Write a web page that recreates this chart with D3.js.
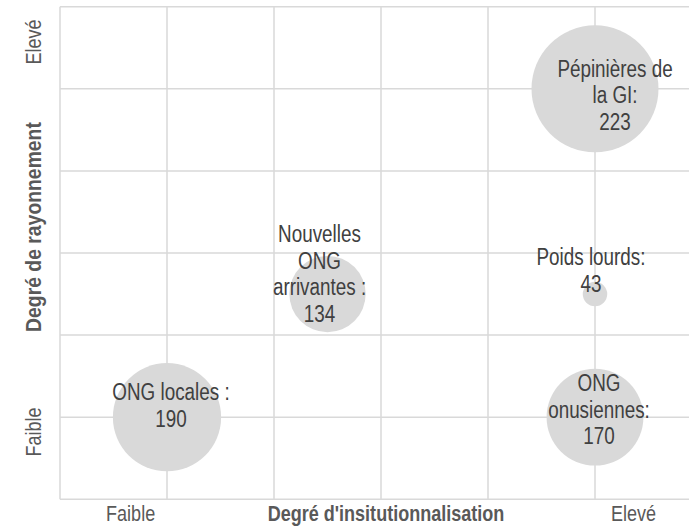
<!DOCTYPE html>
<html>
<head>
<meta charset="utf-8">
<script src="https://cdn.jsdelivr.net/npm/d3@7"></script>
<style>
  html, body { margin: 0; padding: 0; background: #fff; }
  svg { display: block; }
  text { font-family: "Liberation Sans", Arial, sans-serif; }
</style>
</head>
<body>
<svg id="chart" width="689" height="529"></svg>
<script>
// Groups of NGOs: institutionalisation (x) vs. reach (y), bubble width = count
const groupNames = [
  ["ONG locales :", "190"],
  ["Nouvelles", "ONG", "arrivantes :", "134"],
  ["Pépinières de", "la GI:", "223"],
  ["Poids lourds:", "43"],
  ["ONG", "onusiennes:", "170"]
];
const institutionalisation = [1, 2.5, 5, 5, 5];
const rayonnement = [1, 2.5, 5, 2.5, 1];
const counts = [190, 134, 223, 43, 170];

// Axis wording
const xTickLabels = [{ v: 0.66, t: "Faible" }, { v: 5.36, t: "Elevé" }];
const yTickLabels = [{ v: 0.82, t: "Faible" }, { v: 5.57, t: "Elevé" }];
const xTitle = "Degré d'insitutionnalisation";
const yTitle = "Degré de rayonnement";

// Label placement relative to each bubble centre (px)
const labelOffsets = [
  { dx: 4, dy: -17 },
  { dx: -8, dy: -52 },
  { dx: 20, dy: -12 },
  { dx: -4, dy: -29 },
  { dx: 4, dy: -26 }
];

// Narrow type: regular sans squeezed horizontally
const NARROW = 0.82;

const svg = d3.select("#chart");
const plotLeft = 60, plotTop = 6.7, plotBottom = 499.3, step = 107;

const x = d3.scaleLinear().domain([0, 6]).range([plotLeft, plotLeft + 6 * step]);
const y = d3.scaleLinear().domain([0, 6]).range([plotBottom, plotTop]);
const r = d3.scaleLinear().domain([0, 223]).range([0, 63.5]);

const gridColor = "#d9d9d9";

// Gridlines
const grid = svg.append("g");
grid.selectAll("line.v").data(d3.range(0, 7)).join("line")
  .attr("class", "v")
  .attr("x1", d => x(d)).attr("x2", d => x(d))
  .attr("y1", y(6)).attr("y2", y(0))
  .attr("stroke", gridColor).attr("stroke-width", 1.5);
grid.selectAll("line.h").data(d3.range(0, 7)).join("line")
  .attr("class", "h")
  .attr("x1", x(0)).attr("x2", x(6))
  .attr("y1", d => y(d)).attr("y2", d => y(d))
  .attr("stroke", gridColor).attr("stroke-width", 1.5);

// Bubbles
const pts = counts.map((c, i) => ({
  x: institutionalisation[i], y: rayonnement[i], c, lines: groupNames[i], off: labelOffsets[i]
}));

svg.append("g").selectAll("circle").data(pts).join("circle")
  .attr("cx", d => x(d.x)).attr("cy", d => y(d.y)).attr("r", d => r(d.c))
  .attr("fill", "#d9d9d9");

// Data labels
const lineH = 26.5;
svg.append("g").selectAll("text").data(pts).join("text")
  .attr("transform", d => `translate(${x(d.x) + d.off.dx},${y(d.y) + d.off.dy}) scale(${NARROW},1)`)
  .attr("text-anchor", "middle")
  .attr("fill", "#404040")
  .attr("font-size", 23)
  .each(function (d) {
    const t = d3.select(this);
    d.lines.forEach((ln, k) => {
      t.append("tspan").attr("x", 0).attr("y", k * lineH).text(ln);
    });
  });

// Axis category labels
svg.append("g").selectAll("text").data(xTickLabels).join("text")
  .attr("transform", d => `translate(${x(d.v)},521) scale(${NARROW},1)`)
  .attr("text-anchor", "middle").attr("fill", "#595959").attr("font-size", 22)
  .text(d => d.t);

svg.append("g").selectAll("text").data(yTickLabels).join("text")
  .attr("transform", d => `translate(41,${y(d.v)}) rotate(-90) scale(${NARROW},1)`)
  .attr("text-anchor", "middle").attr("fill", "#595959").attr("font-size", 22)
  .text(d => d.t);

// Axis titles
svg.append("text")
  .attr("transform", `translate(386,521) scale(${NARROW},1)`)
  .attr("text-anchor", "middle").attr("fill", "#595959")
  .attr("font-size", 22).attr("font-weight", "bold")
  .text(xTitle);

svg.append("text")
  .attr("transform", `translate(41,227) rotate(-90) scale(0.88,1)`)
  .attr("text-anchor", "middle").attr("fill", "#595959")
  .attr("font-size", 22).attr("font-weight", "bold")
  .text(yTitle);
</script>
</body>
</html>
